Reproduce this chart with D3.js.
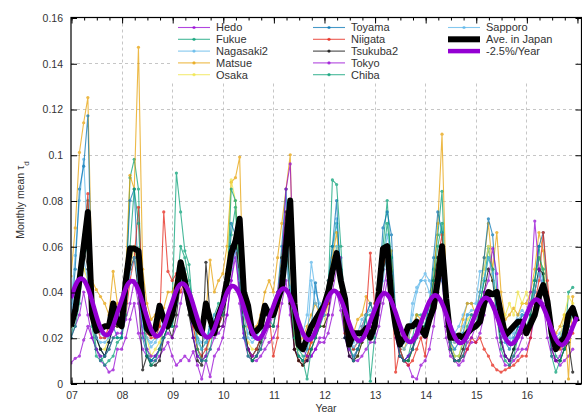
<!DOCTYPE html>
<html>
<head>
<meta charset="utf-8">
<script src="https://cdn.jsdelivr.net/npm/d3@7"></script>
<style>
	body { margin: 0; background: #ffffff; }
	svg { display: block; font-family: "Liberation Sans", Arial, sans-serif; }
</style>
</head>
<body>
<div class="chart"></div>
<script>
	// monthly mean values, one row per year, starting Jan 2007
	var hedo = [
		0.009, 0.011, 0.012, 0.019, 0.025, 0.020, 0.015, 0.010, 0.008, 0.005, 0.006, 0.015,
		0.015, 0.020, 0.028, 0.035, 0.022, 0.015, 0.012, 0.010, 0.010, 0.012, 0.015, 0.018,
		0.012, 0.008, 0.010, 0.012, 0.010, 0.014, 0.008, 0.002, 0.010, 0.003, 0.012, 0.015,
		0.020, 0.030, 0.045, 0.060, 0.035, 0.020, 0.012, 0.010, 0.010, 0.012, 0.015, 0.018,
		0.020, 0.025, 0.035, 0.045, 0.030, 0.015, 0.012, 0.010, 0.010, 0.012, 0.015, 0.018,
		0.018, 0.022, 0.030, 0.040, 0.032, 0.020, 0.012, 0.010, 0.010, 0.012, 0.015, 0.018,
		0.018, 0.025, 0.035, 0.045, 0.035, 0.020, 0.012, 0.010, 0.008, 0.003, 0.002, 0.008,
		0.010, 0.015, 0.025, 0.040, 0.035, 0.020, 0.012, 0.010, 0.008, 0.010, 0.015, 0.018,
		0.018, 0.022, 0.030, 0.040, 0.035, 0.020, 0.012, 0.008, 0.008, 0.010, 0.012, 0.015,
		0.015, 0.020, 0.030, 0.040, 0.035, 0.020, 0.012, 0.010, 0.008, 0.010, 0.012, 0.015];
	var fukue = [
		0.020, 0.030, 0.045, 0.065, 0.080, 0.030, 0.015, 0.012, 0.008, 0.010, 0.012, 0.018,
		0.020, 0.040, 0.090, 0.098, 0.085, 0.030, 0.015, 0.010, 0.012, 0.015, 0.025, 0.030,
		0.035, 0.092, 0.075, 0.058, 0.052, 0.030, 0.020, 0.015, 0.018, 0.025, 0.030, 0.035,
		0.035, 0.045, 0.065, 0.077, 0.040, 0.025, 0.015, 0.012, 0.015, 0.020, 0.030, 0.030,
		0.030, 0.035, 0.050, 0.070, 0.035, 0.020, 0.015, 0.012, 0.012, 0.020, 0.025, 0.030,
		0.030, 0.040, 0.060, 0.070, 0.050, 0.025, 0.018, 0.015, 0.015, 0.020, 0.030, 0.030,
		0.030, 0.040, 0.060, 0.080, 0.050, 0.025, 0.015, 0.010, 0.012, 0.020, 0.030, 0.030,
		0.025, 0.035, 0.050, 0.065, 0.084, 0.035, 0.018, 0.012, 0.012, 0.018, 0.025, 0.030,
		0.030, 0.035, 0.045, 0.059, 0.050, 0.030, 0.020, 0.012, 0.010, 0.015, 0.025, 0.030,
		0.030, 0.035, 0.045, 0.060, 0.045, 0.030, 0.020, 0.012, 0.010, 0.015, 0.040, 0.042];
	var nagasaki2 = [
		0.035, 0.056, 0.080, 0.098, 0.060, 0.030, 0.025, 0.022, 0.020, 0.022, 0.030, 0.028,
		0.028, 0.040, 0.055, 0.060, 0.040, 0.025, 0.020, 0.018, 0.020, 0.025, 0.030, 0.030,
		0.030, 0.035, 0.045, 0.050, 0.040, 0.030, 0.020, 0.018, 0.020, 0.025, 0.030, 0.030,
		0.030, 0.040, 0.055, 0.060, 0.045, 0.030, 0.022, 0.020, 0.022, 0.025, 0.030, 0.032,
		0.030, 0.035, 0.045, 0.055, 0.035, 0.020, 0.018, 0.022, 0.030, 0.053, 0.040, 0.035,
		0.030, 0.040, 0.055, 0.072, 0.050, 0.030, 0.020, 0.018, 0.022, 0.028, 0.030, 0.035,
		0.030, 0.038, 0.050, 0.065, 0.055, 0.030, 0.020, 0.018, 0.020, 0.035, 0.042, 0.045,
		0.048, 0.045, 0.040, 0.050, 0.045, 0.035, 0.025, 0.022, 0.025, 0.030, 0.035, 0.035,
		0.035, 0.049, 0.050, 0.060, 0.050, 0.035, 0.025, 0.020, 0.020, 0.025, 0.030, 0.032,
		0.030, 0.035, 0.040, 0.050, 0.045, 0.030, 0.022, 0.020, 0.022, 0.025, 0.030, 0.030];
	var matsue = [
		0.047, 0.068, 0.101, 0.114, 0.125, 0.045, 0.041, 0.038, 0.035, 0.030, 0.049, 0.035,
		0.030, 0.050, 0.091, 0.085, 0.147, 0.050, 0.035, 0.028, 0.030, 0.025, 0.033, 0.040,
		0.040, 0.045, 0.050, 0.048, 0.040, 0.028, 0.022, 0.025, 0.030, 0.054, 0.040, 0.045,
		0.048, 0.060, 0.088, 0.090, 0.099, 0.030, 0.025, 0.022, 0.025, 0.030, 0.040, 0.045,
		0.040, 0.055, 0.070, 0.085, 0.100, 0.022, 0.018, 0.020, 0.025, 0.030, 0.035, 0.030,
		0.035, 0.045, 0.055, 0.066, 0.045, 0.025, 0.020, 0.022, 0.028, 0.030, 0.038, 0.035,
		0.030, 0.040, 0.050, 0.060, 0.058, 0.030, 0.018, 0.015, 0.020, 0.025, 0.030, 0.028,
		0.030, 0.035, 0.045, 0.070, 0.109, 0.040, 0.022, 0.018, 0.020, 0.028, 0.035, 0.035,
		0.030, 0.040, 0.055, 0.070, 0.050, 0.066, 0.040, 0.028, 0.030, 0.033, 0.030, 0.035,
		0.035, 0.040, 0.050, 0.066, 0.058, 0.040, 0.025, 0.022, 0.025, 0.030, 0.002, 0.038];
	var osaka = [
		0.025, 0.035, 0.045, 0.050, 0.045, 0.030, 0.020, 0.015, 0.015, 0.020, 0.025, 0.025,
		0.025, 0.035, 0.050, 0.060, 0.045, 0.030, 0.020, 0.012, 0.015, 0.018, 0.025, 0.025,
		0.025, 0.035, 0.045, 0.050, 0.040, 0.025, 0.015, 0.010, 0.012, 0.020, 0.025, 0.030,
		0.035, 0.050, 0.089, 0.080, 0.050, 0.030, 0.018, 0.015, 0.015, 0.020, 0.025, 0.030,
		0.030, 0.040, 0.055, 0.075, 0.040, 0.020, 0.012, 0.010, 0.012, 0.018, 0.025, 0.025,
		0.025, 0.035, 0.050, 0.060, 0.045, 0.025, 0.015, 0.010, 0.012, 0.018, 0.025, 0.025,
		0.025, 0.035, 0.050, 0.060, 0.050, 0.028, 0.015, 0.010, 0.010, 0.015, 0.025, 0.025,
		0.030, 0.035, 0.045, 0.055, 0.060, 0.030, 0.018, 0.012, 0.012, 0.020, 0.028, 0.030,
		0.030, 0.040, 0.050, 0.060, 0.045, 0.040, 0.025, 0.030, 0.035, 0.030, 0.040, 0.035,
		0.040, 0.035, 0.045, 0.055, 0.050, 0.035, 0.025, 0.018, 0.020, 0.030, 0.038, 0.035];
	var toyama = [
		0.030, 0.050, 0.085, 0.095, 0.117, 0.035, 0.020, 0.015, 0.012, 0.018, 0.025, 0.020,
		0.020, 0.045, 0.080, 0.085, 0.045, 0.020, 0.012, 0.010, 0.012, 0.015, 0.020, 0.025,
		0.025, 0.035, 0.050, 0.045, 0.035, 0.020, 0.012, 0.010, 0.012, 0.028, 0.025, 0.025,
		0.030, 0.045, 0.070, 0.065, 0.040, 0.020, 0.015, 0.012, 0.015, 0.020, 0.025, 0.030,
		0.030, 0.040, 0.060, 0.085, 0.035, 0.015, 0.012, 0.010, 0.015, 0.025, 0.044, 0.030,
		0.035, 0.045, 0.060, 0.080, 0.040, 0.020, 0.015, 0.012, 0.015, 0.020, 0.030, 0.035,
		0.030, 0.040, 0.068, 0.075, 0.065, 0.030, 0.015, 0.010, 0.012, 0.015, 0.025, 0.025,
		0.025, 0.035, 0.055, 0.075, 0.066, 0.030, 0.018, 0.015, 0.018, 0.022, 0.030, 0.030,
		0.030, 0.040, 0.055, 0.072, 0.065, 0.040, 0.025, 0.018, 0.015, 0.020, 0.025, 0.030,
		0.030, 0.035, 0.045, 0.060, 0.066, 0.040, 0.020, 0.015, 0.018, 0.025, 0.030, 0.030];
	var niigata = [
		0.030, 0.035, 0.045, 0.060, 0.083, 0.035, 0.025, 0.020, 0.020, 0.025, 0.035, 0.030,
		0.025, 0.030, 0.045, 0.055, 0.077, 0.040, 0.022, 0.020, 0.020, 0.025, 0.075, 0.049,
		0.045, 0.048, 0.040, 0.045, 0.035, 0.025, 0.015, 0.012, 0.015, 0.020, 0.025, 0.025,
		0.030, 0.040, 0.055, 0.060, 0.045, 0.025, 0.015, 0.012, 0.015, 0.020, 0.025, 0.030,
		0.012, 0.020, 0.050, 0.065, 0.035, 0.015, 0.010, 0.008, 0.012, 0.018, 0.025, 0.028,
		0.030, 0.035, 0.045, 0.055, 0.040, 0.022, 0.018, 0.015, 0.018, 0.025, 0.030, 0.057,
		0.035, 0.040, 0.050, 0.060, 0.045, 0.005, 0.015, 0.010, 0.008, 0.010, 0.015, 0.020,
		0.012, 0.030, 0.040, 0.055, 0.065, 0.030, 0.015, 0.010, 0.010, 0.012, 0.015, 0.020,
		0.018, 0.020, 0.015, 0.012, 0.008, 0.006, 0.005, 0.006, 0.007, 0.008, 0.010, 0.012,
		0.012, 0.020, 0.035, 0.045, 0.066, 0.045, 0.025, 0.015, 0.015, 0.018, 0.020, 0.022];
	var tsukuba2 = [
		0.025, 0.030, 0.045, 0.060, 0.050, 0.030, 0.020, 0.015, 0.012, 0.018, 0.025, 0.025,
		0.025, 0.035, 0.050, 0.055, 0.040, 0.006, 0.012, 0.008, 0.008, 0.010, 0.020, 0.025,
		0.020, 0.030, 0.045, 0.040, 0.030, 0.020, 0.010, 0.008, 0.053, 0.030, 0.025, 0.025,
		0.025, 0.040, 0.060, 0.065, 0.045, 0.025, 0.015, 0.010, 0.012, 0.018, 0.025, 0.025,
		0.025, 0.035, 0.055, 0.075, 0.035, 0.015, 0.010, 0.008, 0.010, 0.015, 0.020, 0.025,
		0.025, 0.030, 0.045, 0.055, 0.040, 0.020, 0.012, 0.010, 0.012, 0.018, 0.025, 0.025,
		0.025, 0.035, 0.050, 0.055, 0.045, 0.022, 0.012, 0.010, 0.010, 0.015, 0.022, 0.025,
		0.025, 0.030, 0.045, 0.055, 0.060, 0.025, 0.015, 0.010, 0.010, 0.015, 0.022, 0.025,
		0.025, 0.030, 0.040, 0.050, 0.045, 0.030, 0.018, 0.012, 0.010, 0.015, 0.020, 0.022,
		0.022, 0.030, 0.040, 0.050, 0.048, 0.030, 0.015, 0.010, 0.010, 0.015, 0.018, 0.005];
	var tokyo = [
		0.020, 0.025, 0.030, 0.040, 0.030, 0.020, 0.015, 0.012, 0.012, 0.015, 0.020, 0.022,
		0.022, 0.028, 0.035, 0.045, 0.035, 0.022, 0.015, 0.012, 0.012, 0.015, 0.020, 0.022,
		0.020, 0.025, 0.035, 0.045, 0.035, 0.020, 0.012, 0.010, 0.012, 0.015, 0.020, 0.022,
		0.025, 0.030, 0.045, 0.055, 0.040, 0.022, 0.015, 0.012, 0.012, 0.015, 0.020, 0.025,
		0.030, 0.040, 0.050, 0.085, 0.096, 0.040, 0.020, 0.015, 0.012, 0.012, 0.015, 0.020,
		0.020, 0.030, 0.040, 0.050, 0.055, 0.030, 0.015, 0.010, 0.015, 0.020, 0.025, 0.025,
		0.022, 0.030, 0.040, 0.050, 0.045, 0.025, 0.012, 0.010, 0.012, 0.015, 0.020, 0.022,
		0.020, 0.028, 0.038, 0.050, 0.045, 0.025, 0.015, 0.010, 0.010, 0.012, 0.018, 0.020,
		0.025, 0.030, 0.040, 0.045, 0.059, 0.048, 0.020, 0.012, 0.010, 0.012, 0.015, 0.020,
		0.030, 0.040, 0.071, 0.050, 0.040, 0.030, 0.015, 0.010, 0.012, 0.018, 0.025, 0.025];
	var chiba = [
		0.020, 0.025, 0.035, 0.055, 0.060, 0.025, 0.012, 0.010, 0.012, 0.015, 0.020, 0.020,
		0.020, 0.030, 0.060, 0.085, 0.070, 0.030, 0.012, 0.008, 0.010, 0.015, 0.020, 0.025,
		0.025, 0.040, 0.060, 0.055, 0.045, 0.035, 0.015, 0.010, 0.010, 0.015, 0.025, 0.030,
		0.030, 0.040, 0.085, 0.080, 0.050, 0.025, 0.012, 0.010, 0.012, 0.015, 0.025, 0.028,
		0.025, 0.035, 0.050, 0.060, 0.040, 0.020, 0.012, 0.010, 0.002, 0.015, 0.020, 0.025,
		0.030, 0.040, 0.089, 0.087, 0.060, 0.030, 0.018, 0.010, 0.015, 0.020, 0.030, 0.001,
		0.020, 0.035, 0.055, 0.070, 0.055, 0.025, 0.012, 0.010, 0.010, 0.015, 0.020, 0.025,
		0.025, 0.030, 0.045, 0.060, 0.070, 0.030, 0.015, 0.010, 0.010, 0.012, 0.020, 0.025,
		0.025, 0.035, 0.045, 0.055, 0.050, 0.030, 0.015, 0.010, 0.008, 0.012, 0.020, 0.025,
		0.025, 0.030, 0.045, 0.055, 0.050, 0.030, 0.012, 0.005, 0.010, 0.015, 0.025, 0.030];
	var sapporo = [
		0.030, 0.040, 0.050, 0.055, 0.045, 0.030, 0.020, 0.018, 0.018, 0.020, 0.028, 0.030,
		0.030, 0.038, 0.048, 0.055, 0.045, 0.030, 0.020, 0.016, 0.018, 0.022, 0.028, 0.030,
		0.030, 0.035, 0.045, 0.050, 0.040, 0.028, 0.018, 0.015, 0.018, 0.022, 0.028, 0.030,
		0.032, 0.040, 0.050, 0.058, 0.045, 0.030, 0.020, 0.018, 0.020, 0.025, 0.030, 0.032,
		0.030, 0.038, 0.048, 0.055, 0.042, 0.028, 0.018, 0.015, 0.018, 0.045, 0.035, 0.032,
		0.030, 0.038, 0.048, 0.060, 0.045, 0.030, 0.020, 0.016, 0.018, 0.025, 0.030, 0.032,
		0.030, 0.036, 0.045, 0.058, 0.048, 0.028, 0.018, 0.015, 0.018, 0.030, 0.040, 0.045,
		0.045, 0.040, 0.038, 0.048, 0.045, 0.030, 0.020, 0.018, 0.020, 0.025, 0.030, 0.032,
		0.032, 0.040, 0.046, 0.055, 0.048, 0.032, 0.022, 0.018, 0.018, 0.022, 0.028, 0.030,
		0.030, 0.034, 0.040, 0.048, 0.042, 0.030, 0.020, 0.018, 0.020, 0.024, 0.028, 0.030];
	var aveJapan = [
		0.025, 0.032, 0.045, 0.060, 0.075, 0.030, 0.023, 0.024, 0.025, 0.025, 0.035, 0.027,
		0.025, 0.045, 0.059, 0.059, 0.058, 0.035, 0.024, 0.022, 0.024, 0.034, 0.028, 0.025,
		0.030, 0.040, 0.053, 0.045, 0.035, 0.028, 0.024, 0.022, 0.035, 0.028, 0.022, 0.030,
		0.035, 0.045, 0.057, 0.062, 0.072, 0.040, 0.034, 0.022, 0.023, 0.025, 0.034, 0.030,
		0.030, 0.036, 0.042, 0.060, 0.080, 0.035, 0.017, 0.015, 0.020, 0.025, 0.028, 0.031,
		0.034, 0.040, 0.049, 0.057, 0.045, 0.037, 0.017, 0.022, 0.022, 0.022, 0.024, 0.020,
		0.025, 0.040, 0.059, 0.060, 0.037, 0.025, 0.017, 0.020, 0.025, 0.025, 0.027, 0.024,
		0.021, 0.028, 0.033, 0.045, 0.060, 0.037, 0.020, 0.020, 0.021, 0.020, 0.022, 0.024,
		0.025, 0.027, 0.035, 0.040, 0.039, 0.040, 0.030, 0.021, 0.023, 0.025, 0.027, 0.027,
		0.022, 0.026, 0.030, 0.038, 0.043, 0.036, 0.022, 0.015, 0.018, 0.020, 0.030, 0.033,
		0.027];
	// fitted seasonal curve, -2.5%/year
	var trend = [
		0.0373, 0.0427, 0.0456, 0.0453, 0.0418, 0.0361, 0.0297, 0.0243, 0.0214, 0.0217, 0.0252, 0.0309,
		0.0364, 0.0417, 0.0445, 0.0442, 0.0408, 0.0352, 0.0290, 0.0237, 0.0209, 0.0212, 0.0246, 0.0302,
		0.0355, 0.0407, 0.0434, 0.0431, 0.0398, 0.0344, 0.0283, 0.0231, 0.0204, 0.0207, 0.0240, 0.0294,
		0.0346, 0.0397, 0.0424, 0.0420, 0.0388, 0.0335, 0.0276, 0.0225, 0.0198, 0.0202, 0.0234, 0.0287,
		0.0338, 0.0386, 0.0413, 0.0410, 0.0378, 0.0326, 0.0268, 0.0220, 0.0193, 0.0196, 0.0228, 0.0280,
		0.0330, 0.0377, 0.0403, 0.0400, 0.0369, 0.0319, 0.0262, 0.0215, 0.0189, 0.0192, 0.0223, 0.0273,
		0.0321, 0.0367, 0.0392, 0.0389, 0.0359, 0.0310, 0.0255, 0.0209, 0.0184, 0.0187, 0.0217, 0.0266,
		0.0313, 0.0358, 0.0383, 0.0380, 0.0351, 0.0303, 0.0249, 0.0204, 0.0179, 0.0182, 0.0211, 0.0259,
		0.0305, 0.0349, 0.0373, 0.0370, 0.0342, 0.0295, 0.0243, 0.0199, 0.0175, 0.0178, 0.0206, 0.0253,
		0.0299, 0.0342, 0.0365, 0.0362, 0.0334, 0.0289, 0.0237, 0.0194, 0.0171, 0.0174, 0.0202, 0.0247,
		0.0291];

	var years = [2007, 2008, 2009, 2010, 2011, 2012, 2013, 2014, 2015, 2016];
	var yearLabels = ["07", "08", "09", "10", "11", "12", "13", "14", "15", "16"];
	var yTicks = [0, 0.02, 0.04, 0.06, 0.08, 0.1, 0.12, 0.14, 0.16];

	// series in key order
	var stations = [
		{ name: "Hedo", values: hedo, color: "#9400D3" },
		{ name: "Fukue", values: fukue, color: "#009E73" },
		{ name: "Nagasaki2", values: nagasaki2, color: "#56B4E9" },
		{ name: "Matsue", values: matsue, color: "#E69F00" },
		{ name: "Osaka", values: osaka, color: "#F0E442" },
		{ name: "Toyama", values: toyama, color: "#0072B2" },
		{ name: "Niigata", values: niigata, color: "#E51E10" },
		{ name: "Tsukuba2", values: tsukuba2, color: "#000000" },
		{ name: "Tokyo", values: tokyo, color: "#9400D3" },
		{ name: "Chiba", values: chiba, color: "#009E73" },
		{ name: "Sapporo", values: sapporo, color: "#56B4E9" }
	];

	// set sizes
	var width = 582, height = 415;
	var plot = { left: 71, right: 581.5, top: 17.5, bottom: 383.5 };

	var svg = d3.select(".chart")
		.append("svg")
			.attr("width", width)
			.attr("height", height);

	// set scales
	var xScale = d3.scaleLinear()
		.domain([2007, 2017.1])
		.range([plot.left, 582]);
	var yScale = d3.scaleLinear()
		.domain([0, 0.16])
		.range([plot.bottom, plot.top]);

	svg.append("clipPath")
		.attr("id", "clip")
	  .append("rect")
		.attr("x", plot.left)
		.attr("y", plot.top)
		.attr("width", plot.right - plot.left)
		.attr("height", plot.bottom - plot.top);

	// grid
	var grid = svg.append("g")
		.attr("stroke", "#b8b8b8")
		.attr("stroke-width", 0.8)
		.attr("stroke-dasharray", "3,3");
	grid.selectAll(".vgrid")
		.data(years.slice(1))
		.enter().append("line")
			.attr("x1", function(d){ return Math.round(xScale(d)) + 0.5; })
			.attr("x2", function(d){ return Math.round(xScale(d)) + 0.5; })
			.attr("y1", plot.top)
			.attr("y2", plot.bottom);
	grid.selectAll(".hgrid")
		.data(yTicks.slice(1, -1))
		.enter().append("line")
			.attr("x1", plot.left)
			.attr("x2", plot.right)
			.attr("y1", function(d){ return Math.round(yScale(d)) + 0.5; })
			.attr("y2", function(d){ return Math.round(yScale(d)) + 0.5; });

	// white key area hides the grid
	svg.append("rect")
		.attr("x", 170)
		.attr("y", 18.5)
		.attr("width", 407)
		.attr("height", 63)
		.attr("fill", "#ffffff");

	var xm = function(d, i){ return xScale(2007 + i / 12); };

	var data = svg.append("g").attr("clip-path", "url(#clip)");

	// station lines
	stations.forEach(function(s) {
		var g = data.append("g")
			.attr("opacity", 0.72);
		g.append("path")
			.datum(s.values)
			.attr("fill", "none")
			.attr("stroke", s.color)
			.attr("stroke-width", 1.1)
			.attr("d", d3.line().x(xm).y(function(d){ return yScale(d); }));
		g.selectAll("circle")
			.data(s.values)
			.enter().append("circle")
				.attr("cx", xm)
				.attr("cy", function(d){ return yScale(d); })
				.attr("r", 1.6)
				.attr("fill", s.color);
	});

	// average
	data.append("path")
		.datum(aveJapan)
		.attr("fill", "none")
		.attr("stroke", "#000000")
		.attr("stroke-width", 6)
		.attr("stroke-linejoin", "round")
		.attr("d", d3.line().x(xm).y(function(d){ return yScale(d); }));

	// fitted trend
	data.append("path")
		.datum(trend)
		.attr("fill", "none")
		.attr("stroke", "#9400D3")
		.attr("stroke-width", 4.5)
		.attr("d", d3.line().curve(d3.curveNatural).x(xm).y(function(d){ return yScale(d); }));

	// axes
	var fmt = function(d){ return d === 0 ? "0" : String(+d.toFixed(2)); };
	var quarters = d3.range(2007, 2017.1, 0.25);

	var yAxisL = svg.append("g")
		.attr("transform", "translate(" + plot.left + ",0.5)")
		.call(d3.axisLeft(yScale).tickValues(yTicks).tickSize(-6).tickPadding(8).tickFormat(fmt));
	var yAxisR = svg.append("g")
		.attr("transform", "translate(" + plot.right + ",0.5)")
		.call(d3.axisRight(yScale).tickValues(yTicks).tickSize(-6).tickFormat(""));
	var xAxisB = svg.append("g")
		.attr("transform", "translate(0.5," + plot.bottom + ")")
		.call(d3.axisBottom(xScale).tickValues(years).tickSize(-6).tickPadding(8)
			.tickFormat(function(d, i){ return yearLabels[i]; }));
	var xAxisT = svg.append("g")
		.attr("transform", "translate(0.5," + plot.top + ")")
		.call(d3.axisTop(xScale).tickValues(years.concat([2017])).tickSize(-6).tickFormat(""));
	var xMinorB = svg.append("g")
		.attr("transform", "translate(0.5," + plot.bottom + ")")
		.call(d3.axisBottom(xScale).tickValues(quarters).tickSize(-3).tickFormat(""));
	var xMinorT = svg.append("g")
		.attr("transform", "translate(0.5," + plot.top + ")")
		.call(d3.axisTop(xScale).tickValues(quarters).tickSize(-3).tickFormat(""));

	[yAxisL, yAxisR, xAxisB, xAxisT, xMinorB, xMinorT].forEach(function(a) {
		a.select(".domain").remove();
		a.selectAll("line").attr("stroke", "#000000");
		a.selectAll("text")
			.attr("font-family", "Liberation Sans, Arial, sans-serif")
			.attr("font-size", "10.5px")
			.attr("fill", "#333333");
	});

	// border
	svg.append("rect")
		.attr("x", plot.left)
		.attr("y", plot.top)
		.attr("width", plot.right - plot.left)
		.attr("height", plot.bottom - plot.top)
		.attr("fill", "none")
		.attr("stroke", "#000000")
		.attr("stroke-width", 1.2);

	// labels
	var yLabel = svg.append("text")
		.attr("transform", "translate(24,200) rotate(-90)")
		.attr("text-anchor", "middle")
		.attr("font-size", "10.5px")
		.attr("fill", "#333333")
		.text("Monthly mean \u03c4");
	yLabel.append("tspan")
		.attr("baseline-shift", "sub")
		.attr("font-size", "8px")
		.text("d");

	svg.append("text")
		.attr("x", 326)
		.attr("y", 412)
		.attr("text-anchor", "middle")
		.attr("font-size", "10.5px")
		.attr("fill", "#333333")
		.text("Year");

	// key
	var keyItems = stations.map(function(s){ return { name: s.name, color: s.color, width: 1.1, alpha: 0.72, dot: true }; });
	keyItems.push({ name: "Ave. in Japan", color: "#000000", width: 6, alpha: 1, dot: false });
	keyItems.push({ name: "-2.5%/Year", color: "#9400D3", width: 4.5, alpha: 1, dot: false });

	var keyCols = [178, 313, 448];
	var key = svg.selectAll(".key")
		.data(keyItems)
		.enter().append("g")
			.attr("class", "key")
			.attr("transform", function(d, i){
				return "translate(" + keyCols[Math.floor(i / 5)] + "," + (27.5 + (i % 5) * 11.8) + ")";
			});
	key.append("line")
		.attr("x1", 0)
		.attr("x2", 32)
		.attr("stroke", function(d){ return d.color; })
		.attr("stroke-width", function(d){ return d.width; })
		.attr("opacity", function(d){ return d.alpha; });
	key.filter(function(d){ return d.dot; })
		.append("circle")
		.attr("cx", 16)
		.attr("r", 1.6)
		.attr("fill", function(d){ return d.color; })
		.attr("opacity", function(d){ return d.alpha; });
	key.append("text")
		.attr("x", 38)
		.attr("dy", "0.35em")
		.attr("font-size", "11px")
		.attr("fill", "#333333")
		.text(function(d){ return d.name; });
</script>
</body>
</html>
